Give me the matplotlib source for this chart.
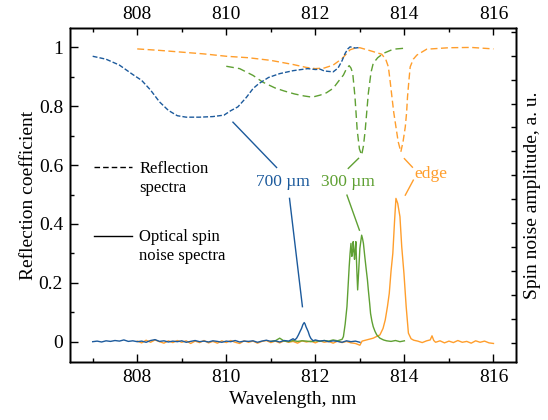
import matplotlib
matplotlib.use("Agg")
import matplotlib.pyplot as plt
from matplotlib.ticker import MultipleLocator, FixedLocator, FixedFormatter

plt.rcParams['font.family'] = ['Liberation Serif', 'DejaVu Serif']

BLUE = '#1c5a9c'
GREEN = '#5fa033'
ORANGE = '#ff9e2c'

# ---------------- Reflection spectra (dashed) ----------------
refl_700_wl = [807.0, 807.3, 807.6, 807.9, 808.1, 808.3, 808.5, 808.7, 808.9, 809.1,
               809.4, 809.7, 809.95, 810.1, 810.26, 810.45, 810.6, 810.73, 810.95, 811.2,
               811.5, 811.83, 812.0, 812.11, 812.2, 812.4, 812.51, 812.6, 812.67, 812.73,
               812.78, 812.9, 813.0]
refl_700_val = [0.970, 0.960, 0.940, 0.908, 0.888, 0.855, 0.815, 0.786, 0.768, 0.763,
                0.763, 0.765, 0.770, 0.785, 0.798, 0.830, 0.860, 0.877, 0.898, 0.911,
                0.921, 0.928, 0.925, 0.926, 0.920, 0.917, 0.930, 0.955, 0.980, 0.995,
                1.002, 0.998, 1.000]

refl_300_wl = [810.0, 810.3, 810.6, 810.82, 811.1, 811.3, 811.53, 811.75, 811.93, 812.11,
               812.25, 812.40, 812.52, 812.63, 812.7, 812.76, 812.8, 812.84, 812.89, 812.94,
               812.99, 813.04, 813.08, 813.12, 813.19, 813.25, 813.30, 813.4, 813.53, 813.75,
               813.98]
refl_300_val = [0.936, 0.928, 0.905, 0.882, 0.862, 0.852, 0.842, 0.835, 0.831, 0.838,
                0.846, 0.861, 0.885, 0.906, 0.928, 0.938, 0.930, 0.912, 0.832, 0.719,
                0.655, 0.634, 0.665, 0.719, 0.844, 0.915, 0.946, 0.965, 0.980, 0.994,
                0.997]

refl_edge_wl = [808.0, 808.5, 809.0, 809.5, 810.0, 810.5, 811.0, 811.5, 811.8, 812.0,
                812.2, 812.4, 812.6, 812.78, 812.9, 813.0, 813.23, 813.49, 813.58, 813.64,
                813.68, 813.72, 813.76, 813.81, 813.86, 813.92, 813.97, 814.02, 814.05, 814.07,
                814.10, 814.13, 814.2, 814.28, 814.5, 815.0, 815.5, 816.0]
refl_edge_val = [0.995, 0.990, 0.984, 0.978, 0.970, 0.965, 0.956, 0.942, 0.932, 0.928,
                 0.930, 0.940, 0.962, 0.992, 0.998, 0.999, 0.989, 0.977, 0.960, 0.934,
                 0.885, 0.832, 0.780, 0.730, 0.680, 0.645, 0.680, 0.730, 0.780, 0.832,
                 0.885, 0.934, 0.960, 0.974, 0.994, 0.999, 1.000, 0.995]

# ---------------- Spin noise spectra (solid) ----------------
sn_700_wl = [807.0, 807.1, 807.2, 807.3, 807.4, 807.5, 807.6, 807.7, 807.8, 807.9,
             808.0, 808.1, 808.2, 808.3, 808.4, 808.5, 808.6, 808.7, 808.8, 808.9,
             809.0, 809.1, 809.2, 809.3, 809.4, 809.5, 809.6, 809.7, 809.8, 809.9,
             810.0, 810.1, 810.2, 810.3, 810.4, 810.5, 810.6, 810.7, 810.8, 810.9,
             811.0, 811.1, 811.2, 811.3, 811.4, 811.5,
             811.54, 811.58, 811.62, 811.66, 811.69, 811.72, 811.75, 811.77, 811.79, 811.84,
             811.87, 811.90, 811.95,
             812.0, 812.1, 812.2, 812.3, 812.4, 812.5, 812.6, 812.7, 812.8, 812.9, 813.0]
sn_700_val = [0.000, 0.002, -0.001, 0.003, 0.001, 0.004, 0.002, 0.006, 0.001, 0.003,
              0.000, 0.002, -0.002, 0.004, 0.007, 0.001, 0.003, -0.001, 0.002, 0.000,
              0.003, -0.002, 0.001, 0.004, 0.000, 0.002, -0.001, 0.003, 0.001, -0.002,
              0.002, 0.000, 0.004, -0.001, 0.002, 0.001, 0.003, -0.002, 0.002, 0.005,
              0.001, 0.003, -0.001, 0.004, 0.002, 0.010,
              0.006, 0.012, 0.023, 0.036, 0.045, 0.058, 0.065, 0.060, 0.051, 0.034,
              0.020, 0.011, 0.003,
              0.006, 0.002, 0.004, 0.000, 0.003, 0.001, -0.002, 0.003, 0.000, 0.002, -0.002]

sn_300_wl = [811.0, 811.1, 811.2, 811.3, 811.4, 811.5, 811.6, 811.7, 811.8, 811.9,
             812.0, 812.1, 812.2, 812.3, 812.4, 812.5, 812.6, 812.63,
             812.67, 812.71, 812.74, 812.76, 812.78, 812.80, 812.82, 812.84, 812.85, 812.87,
             812.88, 812.90, 812.91, 812.93, 812.95, 812.97, 813.0, 813.02, 813.04, 813.06,
             813.08, 813.11, 813.14, 813.17, 813.19, 813.22, 813.24, 813.27, 813.30, 813.34,
             813.38, 813.45, 813.53, 813.6, 813.7, 813.8, 813.9, 814.0]
sn_300_val = [0.001, 0.003, 0.012, 0.002, 0.000, 0.004, 0.001, 0.003, 0.002, 0.000,
              0.003, 0.001, 0.004, 0.002, 0.006, 0.003, 0.008, 0.017,
              0.060, 0.119, 0.200, 0.255, 0.300, 0.334, 0.290, 0.310, 0.340, 0.300,
              0.280, 0.320, 0.340, 0.250, 0.176, 0.230, 0.317, 0.340, 0.362, 0.350,
              0.334, 0.290, 0.249, 0.210, 0.176, 0.130, 0.096, 0.070, 0.051, 0.035,
              0.023, 0.012, 0.006, 0.003, 0.001, 0.004, 0.000, 0.003]

sn_edge_wl = [808.0, 808.1, 808.2, 808.3, 808.4, 808.5, 808.6, 808.7, 808.8, 808.9,
              809.0, 809.1, 809.2, 809.3, 809.4, 809.5, 809.6, 809.7, 809.8, 809.9,
              810.0, 810.1, 810.2, 810.3, 810.4, 810.5, 810.6, 810.7, 810.8, 810.9,
              811.0, 811.1, 811.2, 811.3, 811.4, 811.5, 811.6, 811.7, 811.8, 811.9,
              812.0, 812.1, 812.2, 812.3, 812.4, 812.5, 812.6, 812.7, 812.8, 812.9,
              813.0, 813.05, 813.1, 813.2, 813.3, 813.38, 813.45, 813.52, 813.57, 813.62,
              813.66, 813.70, 813.74, 813.78, 813.81, 813.85, 813.90, 813.94, 813.99, 814.04,
              814.09, 814.15, 814.21, 814.3, 814.4, 814.5, 814.58, 814.62, 814.66, 814.7,
              814.8, 814.9, 815.0, 815.1, 815.2, 815.3, 815.4, 815.5, 815.6, 815.7,
              815.8, 815.9, 816.0]
sn_edge_val = [0.002, -0.004, 0.005, -0.002, 0.006, 0.000, -0.005, 0.003, -0.003, 0.004,
               -0.002, 0.003, -0.006, 0.002, -0.003, 0.004, -0.004, 0.001, -0.005, 0.003,
               -0.003, 0.004, -0.002, -0.006, 0.003, -0.002, 0.002, -0.005, 0.001, 0.004,
               -0.003, 0.002, -0.004, 0.003, -0.002, 0.001, -0.005, 0.003, -0.001, 0.002,
               -0.004, 0.003, -0.002, 0.001, -0.005, 0.002, -0.003, 0.001, -0.004, -0.006,
               -0.012, 0.002, 0.004, 0.008, 0.012, 0.018, 0.023, 0.045, 0.074, 0.120,
               0.164, 0.240, 0.300, 0.413, 0.487, 0.470, 0.425, 0.323, 0.232, 0.119,
               0.029, 0.010, 0.005, 0.002, -0.003, 0.003, 0.006, 0.020, 0.004, -0.002,
               0.003, -0.004, 0.002, -0.003, 0.004, -0.002, 0.001, -0.005, 0.003, -0.002,
               0.002, -0.004, -0.006]

# ---------------- Figure ----------------
fig = plt.figure(figsize=(5.48, 4.20), dpi=100)
ax = fig.add_axes([0.1277, 0.1388, 0.8134, 0.7938])

ax.plot(refl_edge_wl, refl_edge_val, color=ORANGE, lw=1.0, dashes=(5, 2.5))
ax.plot(refl_300_wl, refl_300_val, color=GREEN, lw=1.0, dashes=(5.5, 3))
ax.plot(refl_700_wl, refl_700_val, color=BLUE, lw=1.0, dashes=(3.5, 1.5))

ax.plot(sn_edge_wl, sn_edge_val, color=ORANGE, lw=1.0)
ax.plot(sn_300_wl, sn_300_val, color=GREEN, lw=1.0)
ax.plot(sn_700_wl, sn_700_val, color=BLUE, lw=1.0)

ax.set_xlim(806.49, 816.5)
ax.set_ylim(-0.068, 1.065)

ax.xaxis.set_major_locator(MultipleLocator(2))
ax.xaxis.set_minor_locator(MultipleLocator(1))
ax.yaxis.set_major_locator(FixedLocator([0, 0.2, 0.4, 0.6, 0.8, 1.0]))
ax.yaxis.set_major_formatter(FixedFormatter(['0', '0.2', '0.4', '0.6', '0.8', '1']))
ax.yaxis.set_minor_locator(MultipleLocator(0.1))
ax.tick_params(which='both', direction='in', top=False, right=False, labelsize=14, width=1.0)
ax.tick_params(which='major', length=5.5, pad=5)
ax.tick_params(which='minor', length=3)

ax.set_xlabel('Wavelength, nm', fontsize=14, labelpad=4)
ax.set_ylabel('Reflection coefficient', fontsize=14, labelpad=1)

# top axis
axt = ax.twiny()
axt.set_xlim(ax.get_xlim())
axt.xaxis.set_major_locator(MultipleLocator(2))
axt.xaxis.set_minor_locator(MultipleLocator(1))
axt.tick_params(which='both', direction='in', labelsize=14, width=1.0, pad=4)
axt.tick_params(which='major', length=5)
axt.tick_params(which='minor', length=3)

# right axis
axr = ax.twinx()
axr.set_ylim(-0.8, 13.15)
axr.yaxis.set_major_locator(MultipleLocator(1))
axr.tick_params(which='both', direction='in', length=3.5, width=1.0, labelright=False)
axr.set_ylabel('Spin noise amplitude, a. u.', fontsize=14, labelpad=6)

for a in (ax, axt, axr):
    for s in a.spines.values():
        s.set_linewidth(1.0)

# legend (custom)
ax.plot([807.04, 807.88], [0.592, 0.592], color='black', lw=1.0, dashes=(4, 2.2))
ax.plot([807.04, 807.88], [0.359, 0.359], color='black', lw=1.0)
ax.text(808.05, 0.555, 'Reflection\nspectra', fontsize=12, va='center', ha='left', linespacing=1.3)
ax.text(808.05, 0.323, 'Optical spin\nnoise spectra', fontsize=12, va='center', ha='left', linespacing=1.3)

# annotations
ax.plot([810.15, 811.13], [0.746, 0.592], color=BLUE, lw=1.0)
ax.plot([811.42, 811.71], [0.487, 0.119], color=BLUE, lw=1.0)
ax.text(811.26, 0.544, '700 µm', color=BLUE, fontsize=12.5, ha='center', va='center')

ax.plot([812.97, 812.74], [0.623, 0.589], color=GREEN, lw=1.0)
ax.plot([812.71, 812.99], [0.498, 0.379], color=GREEN, lw=1.0)
ax.text(812.74, 0.544, '300 µm', color=GREEN, fontsize=12.5, ha='center', va='center')

ax.plot([814.00, 814.18], [0.622, 0.593], color=ORANGE, lw=1.0)
ax.plot([814.20, 814.02], [0.549, 0.498], color=ORANGE, lw=1.0)
ax.text(814.59, 0.569, 'edge', color=ORANGE, fontsize=12.5, ha='center', va='center')

fig.savefig('out.png', dpi=100)
